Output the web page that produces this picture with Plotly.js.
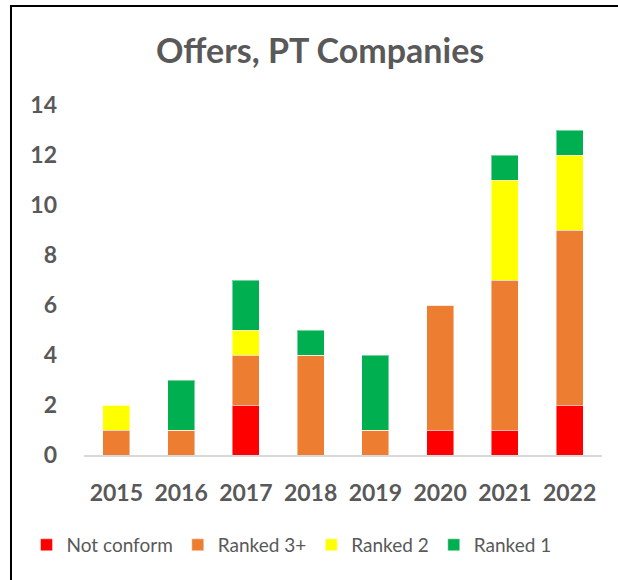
<!DOCTYPE html>
<html>
<head>
<meta charset="utf-8">
<script src="https://cdn.plot.ly/plotly-3.0.1.min.js"></script>
<style>
  html, body { margin: 0; padding: 0; background: #fff; overflow: hidden; }
  #frame { position: absolute; left: 10px; top: 5px; width: 700px; height: 700px;
           border-left: 2px solid #000; border-top: 2px solid #000; pointer-events: none; z-index: 5; }
  #chart { position: absolute; left: 0; top: 0; width: 618px; height: 580px; }
</style>
</head>
<body>
<div id="chart"></div>
<div id="frame"></div>
<script>
const years = ['2015', '2016', '2017', '2018', '2019', '2020', '2021', '2022'];
const notConform = [0, 0, 2, 0, 0, 1, 1, 2];
const ranked3plus = [1, 1, 2, 4, 1, 5, 6, 7];
const ranked2 = [1, 0, 1, 0, 0, 0, 4, 3];
const ranked1 = [0, 2, 2, 1, 3, 0, 1, 1];
const seriesNames = ['Not conform', 'Ranked 3+', 'Ranked 2', 'Ranked 1'];
const seriesColors = ['#FF0000', '#ED7D31', '#FFFF00', '#00B050'];
const yTicks = [0, 2, 4, 6, 8, 10, 12, 14];

const font = 'Lato, "Open Sans", sans-serif';
const values = [notConform, ranked3plus, ranked2, ranked1];
const traces = values.map((v, i) => ({
  type: 'bar',
  x: years,
  y: v,
  name: seriesNames[i],
  marker: { color: seriesColors[i], line: { width: 1, color: 'rgba(255,255,255,0.45)' } },
  hoverinfo: 'x+y+name'
}));

const layout = {
  width: 618, height: 580,
  barmode: 'stack',
  bargap: 0.58,
  paper_bgcolor: '#fff',
  plot_bgcolor: '#fff',
  margin: { l: 84, r: 16, t: 105, b: 125 },
  title: {
    text: '<b>Offers, PT Companies</b>',
    font: { family: font, size: 34, color: '#595959' },
    xref: 'container', x: 0.518, xanchor: 'center',
    yref: 'container', y: 1 - 51 / 580, yanchor: 'middle'
  },
  xaxis: {
    type: 'category',
    showline: true, linecolor: '#d9d9d9', linewidth: 2,
    ticks: '', showgrid: false,
    tickfont: { family: font, size: 23, color: '#595959', weight: 'bold' },
    ticklabelstandoff: 16
  },
  yaxis: {
    range: [0, 14],
    tickvals: yTicks,
    ticktext: yTicks.map(String),
    showgrid: false, zeroline: false, showline: false,
    tickfont: { family: font, size: 23, color: '#595959', weight: 'bold' },
    ticklabelstandoff: 26
  },
  legend: {
    orientation: 'h',
    xref: 'paper', yref: 'paper',
    x: -0.111, xanchor: 'left',
    y: -0.257, yanchor: 'middle',
    font: { family: font, size: 19, color: '#595959' },
    traceorder: 'normal',
    itemwidth: 30,
    tracegroupgap: 0
  },
  showlegend: true
};

Plotly.newPlot('chart', traces, layout, { displayModeBar: false, staticPlot: true });
</script>
</body>
</html>
